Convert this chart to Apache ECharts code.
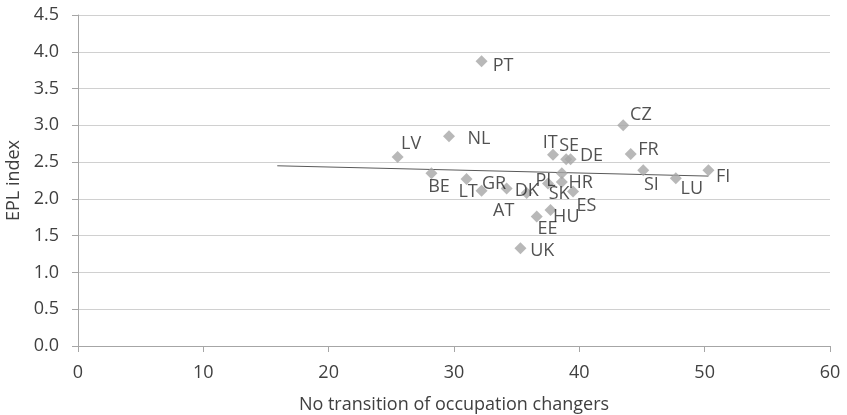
<!DOCTYPE html>
<html>
<head>
<meta charset="utf-8">
<script src="https://cdn.jsdelivr.net/npm/echarts@6/dist/echarts.min.js"></script>
<style>html,body{margin:0;padding:0;background:#fff}#c{width:847px;height:415px}</style>
</head>
<body>
<div id="c"></div>
<script>
var countries = ['PT','CZ','NL','LV','IT','SE','DE','FR','BE','HR','PL','SK','SI','FI','LU','LT','GR','AT','DK','ES','HU','EE','UK'];
var xValues =   [32.2, 43.5, 29.6, 25.5, 37.9, 38.95, 39.3, 44.1, 28.2, 38.6, 37.5, 38.6, 45.1, 50.3, 47.7, 31.0, 32.2, 34.2, 35.8, 39.5, 37.7, 36.6, 35.3];
var yValues =   [3.87, 3.00, 2.85, 2.57, 2.60, 2.54, 2.54, 2.61, 2.35, 2.35, 2.21, 2.23, 2.39, 2.39, 2.28, 2.27, 2.11, 2.14, 2.08, 2.10, 1.85, 1.76, 1.33];
var trendX = [15.9, 50.3];
var trendY = [2.45, 2.31];
var xTicks = [0, 10, 20, 30, 40, 50, 60];
var yTicks = [0, 0.5, 1, 1.5, 2, 2.5, 3, 3.5, 4, 4.5];

// label placement offsets (pixels) relative to each point
var labelOffsets = {
  PT:[21.5,5], CZ:[17.7,-10.5], NL:[30,3], LV:[13.5,-13], IT:[-2.7,-12], SE:[3,-13.5], DE:[21,-3.5],
  FR:[17.7,-4], BE:[7.5,13.5], HR:[18.8,9.5], PL:[-2.5,-3], SK:[-2.7,11.5], SI:[8.2,15], FI:[14.7,7],
  LU:[16,11], LT:[1.6,12.5], GR:[12.5,-6.5], AT:[-2.9,22], DK:[0,-2.5], ES:[13.4,14.5], HU:[15.8,7],
  EE:[10.8,12.5], UK:[21.8,2.5]
};

var pts = countries.map(function(c, i){
  var o = labelOffsets[c] || [14,0];
  return {
    name: c,
    value: [xValues[i], yValues[i]],
    label: { offset: o }
  };
});

var chart = echarts.init(document.getElementById('c'), null, {renderer:'canvas'});
var font = '"Open Sans", "Liberation Sans", sans-serif';
chart.setOption({
  animation: false,
  textStyle: { fontFamily: font },
  grid: { left: 78, right: 17, top: 15, bottom: 69, containLabel: false, outerBoundsMode: 'none' },
  xAxis: {
    type: 'value', min: 0, max: 60, interval: 10,
    name: 'No transition of occupation changers',
    nameLocation: 'middle', nameGap: 50,
    nameTextStyle: { fontSize: 18, color: '#404040', fontFamily: font },
    axisLine: { show: true, lineStyle: { color: '#a6a6a6', width: 1 } },
    axisTick: { show: true, length: 6, lineStyle: { color: '#a6a6a6' } },
    axisLabel: { fontSize: 18, color: '#404040', margin: 18, fontFamily: font,
      formatter: function(v){ return xTicks.indexOf(v) >= 0 ? String(v) : ''; } },
    splitLine: { show: false }
  },
  yAxis: {
    type: 'value', min: 0, max: 4.5, interval: 0.5,
    name: 'EPL index',
    nameLocation: 'middle', nameGap: 54, nameRotate: 90,
    nameTextStyle: { fontSize: 18, color: '#404040', fontFamily: font },
    axisLine: { show: true, lineStyle: { color: '#a6a6a6', width: 1 } },
    axisTick: { show: true, length: 6, lineStyle: { color: '#a6a6a6' } },
    axisLabel: { fontSize: 18, color: '#404040', margin: 19, fontFamily: font,
      formatter: function(v){ return yTicks.indexOf(v) >= 0 ? v.toFixed(1) : ''; } },
    splitLine: { show: true, lineStyle: { color: '#d0d0d0', width: 1 } }
  },
  series: [
    {
      type: 'line',
      data: trendX.map(function(x, i){ return [x, trendY[i]]; }),
      symbol: 'none',
      lineStyle: { color: '#595959', width: 1 },
      z: 1,
      silent: true
    },
    {
      type: 'scatter',
      data: pts,
      symbol: 'diamond',
      symbolSize: 12,
      itemStyle: { color: '#a6a6a6' },
      z: 2,
      label: {
        show: true,
        position: 'inside',
        formatter: '{b}',
        fontSize: 18,
        color: '#262626',
        fontFamily: font
      }
    }
  ]
});
</script>
</body>
</html>
